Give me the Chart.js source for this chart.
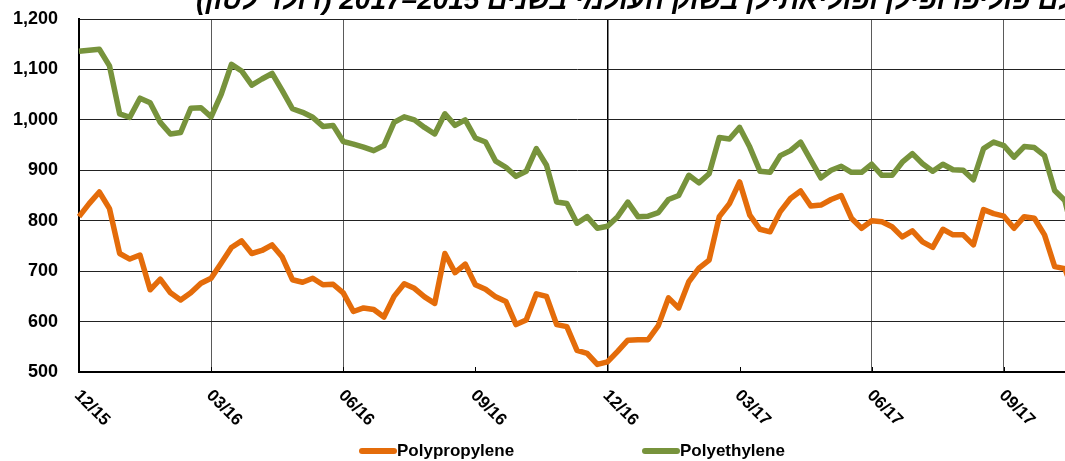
<!DOCTYPE html>
<html>
<head>
<meta charset="utf-8">
<script src="https://cdn.jsdelivr.net/npm/chart.js@4"></script>
<style>
  html, body { margin: 0; padding: 0; background: #fff; overflow: hidden; width: 1065px; height: 461px; }
  canvas { display: block; }
</style>
</head>
<body>
<canvas id="priceChart" width="1080" height="461"></canvas>
<script>
// Weekly prices, Dec 2015 - Oct 2017
const titleText = 'מחירי חומרי הגלם פוליפרופילן ופוליאתילן בשוק העולמי בשנים 2015–2017 (דולר לטון)';
const tickLabels = ['12/15', '03/16', '06/16', '09/16', '12/16', '03/17', '06/17', '09/17'];
const weeksPerQuarter = 13;

const polypropylene = [
    808, 834, 857, 824, 735, 724, 732, 663, 684, 657,
    643, 657, 676, 686, 716, 747, 760, 735, 741, 752,
    728, 683, 678, 686, 673, 674, 657, 620, 627, 624,
    609, 650, 675, 666, 649, 636, 735, 697, 714, 673,
    664, 649, 640, 594, 603, 655, 650, 594, 590, 543,
    537, 515, 520, 541, 563, 564, 564, 592, 647, 627,
    679, 706, 722, 808, 834, 877, 811, 783, 778, 818,
    844, 859, 829, 831, 842, 850, 805, 785, 800, 798,
    788, 768, 780, 758, 747, 783, 772, 772, 752, 822,
    814, 809, 785, 808, 805, 772, 709, 705, 650
];

const polyethylene = [
    1136, 1138, 1140, 1107, 1012, 1005, 1043, 1034, 995, 972,
    975, 1023, 1024, 1006, 1051, 1110, 1097, 1069, 1081, 1092,
    1058, 1022, 1015, 1005, 987, 989, 957, 952, 946, 939,
    949, 995, 1006, 1000, 985, 972, 1012, 989, 1000, 964,
    956, 918, 906, 888, 898, 943, 910, 837, 834, 795,
    808, 785, 789, 808, 837, 808, 809, 816, 842, 850,
    890, 875, 893, 965, 962, 985, 946, 898, 896, 929,
    939, 956, 920, 885, 900, 908, 896, 896, 912, 890,
    890, 916, 933, 913, 898, 912, 901, 900, 881, 943,
    956, 949, 926, 947, 945, 929, 860, 840, 760
];

const ORANGE = '#E46C0A';
const GREEN = '#77933C';
const FONT = '"Liberation Sans", Arial, sans-serif';

// one label per week, only quarter starts get text
const labels = polypropylene.map((v, i) =>
    i % weeksPerQuarter === 0 ? (tickLabels[i / weeksPerQuarter] || '') : '');

// quarters that have no vertical gridline in the original
const noGrid = ['12/15', '09/16', '03/17'];

// Draws title, rotated x labels, inside tick marks and legend
const extrasPlugin = {
    id: 'extras',
    afterDraw(chart) {
        const ctx = chart.ctx;
        const x = chart.scales.x;
        const area = chart.chartArea;

        ctx.save();
        // title (cut off at the top like the source image)
        ctx.font = 'italic bold 28px ' + FONT;
        ctx.fillStyle = '#000';
        ctx.direction = 'rtl';
        ctx.textAlign = 'left';
        ctx.textBaseline = 'alphabetic';
        ctx.fillText(titleText, 196, 9);
        ctx.direction = 'ltr';

        // small inside tick marks on the x axis
        ctx.strokeStyle = '#000';
        ctx.lineWidth = 1;
        labels.forEach((lab, i) => {
            if (!lab) return;
            const px = Math.round(x.getPixelForValue(i)) + 0.5;
            ctx.beginPath();
            ctx.moveTo(px, area.bottom);
            ctx.lineTo(px, area.bottom - 5);
            ctx.stroke();
        });

        // rotated tick labels
        ctx.font = 'bold 17px ' + FONT;
        ctx.textAlign = 'left';
        ctx.textBaseline = 'top';
        labels.forEach((lab, i) => {
            if (!lab) return;
            const px = x.getPixelForValue(i);
            ctx.save();
            ctx.translate(px + 4, 387);
            ctx.rotate(Math.PI / 4);
            ctx.fillText(lab, 0, 0);
            ctx.restore();
        });

        // legend
        ctx.font = 'bold 17px ' + FONT;
        ctx.textBaseline = 'middle';
        ctx.lineCap = 'round';
        ctx.lineWidth = 6;
        const items = [
            { text: 'Polypropylene', color: ORANGE, x0: 362 },
            { text: 'Polyethylene', color: GREEN, x0: 645 }
        ];
        items.forEach(it => {
            ctx.strokeStyle = it.color;
            ctx.beginPath();
            ctx.moveTo(it.x0, 451);
            ctx.lineTo(it.x0 + 32, 451);
            ctx.stroke();
            ctx.fillStyle = '#000';
            ctx.fillText(it.text, it.x0 + 35, 451);
        });
        ctx.restore();
    }
};

new Chart(document.getElementById('priceChart'), {
    type: 'line',
    data: {
        labels: labels,
        datasets: [
            {
                label: 'Polypropylene',
                data: polypropylene,
                borderColor: ORANGE,
                backgroundColor: ORANGE,
                borderWidth: 5.5,
                pointRadius: 0,
                tension: 0,
                borderJoinStyle: 'round',
                fill: false
            },
            {
                label: 'Polyethylene',
                data: polyethylene,
                borderColor: GREEN,
                backgroundColor: GREEN,
                borderWidth: 5.5,
                pointRadius: 0,
                tension: 0,
                borderJoinStyle: 'round',
                fill: false
            }
        ]
    },
    options: {
        responsive: false,
        animation: false,
        devicePixelRatio: 1,
        layout: { padding: { top: 19, right: 5, bottom: 89, left: 0 } },
        plugins: {
            legend: { display: false },
            tooltip: { enabled: false }
        },
        scales: {
            x: {
                offset: false,
                ticks: { display: false, autoSkip: false },
                grid: {
                    drawTicks: false,
                    color: ctx => {
                        const lab = labels[ctx.index];
                        if (!lab || noGrid.includes(lab)) return 'rgba(0,0,0,0)';
                        return lab === '12/16' ? '#000' : '#5a5a5a';
                    },
                    lineWidth: ctx => labels[ctx.index] === '12/16' ? 1.5 : 1
                },
                border: { display: true, color: '#000', width: 2 },
                afterFit: scale => { scale.height = 0; }
            },
            y: {
                min: 500,
                max: 1200,
                ticks: {
                    stepSize: 100,
                    color: '#000',
                    padding: 21,
                    font: { family: FONT, size: 18, weight: 'bold' },
                    callback: v => v.toLocaleString('en-US')
                },
                grid: { drawTicks: false, color: '#222', lineWidth: 1 },
                border: { display: true, color: '#000', width: 2 },
                afterFit: scale => {
                    // fixed axis width; drop the label padding Chart.js adds above/below
                    scale.width = 79;
                    scale.paddingTop = 0;
                    scale.paddingBottom = 0;
                }
            }
        }
    },
    plugins: [extrasPlugin]
});
</script>
</body>
</html>
